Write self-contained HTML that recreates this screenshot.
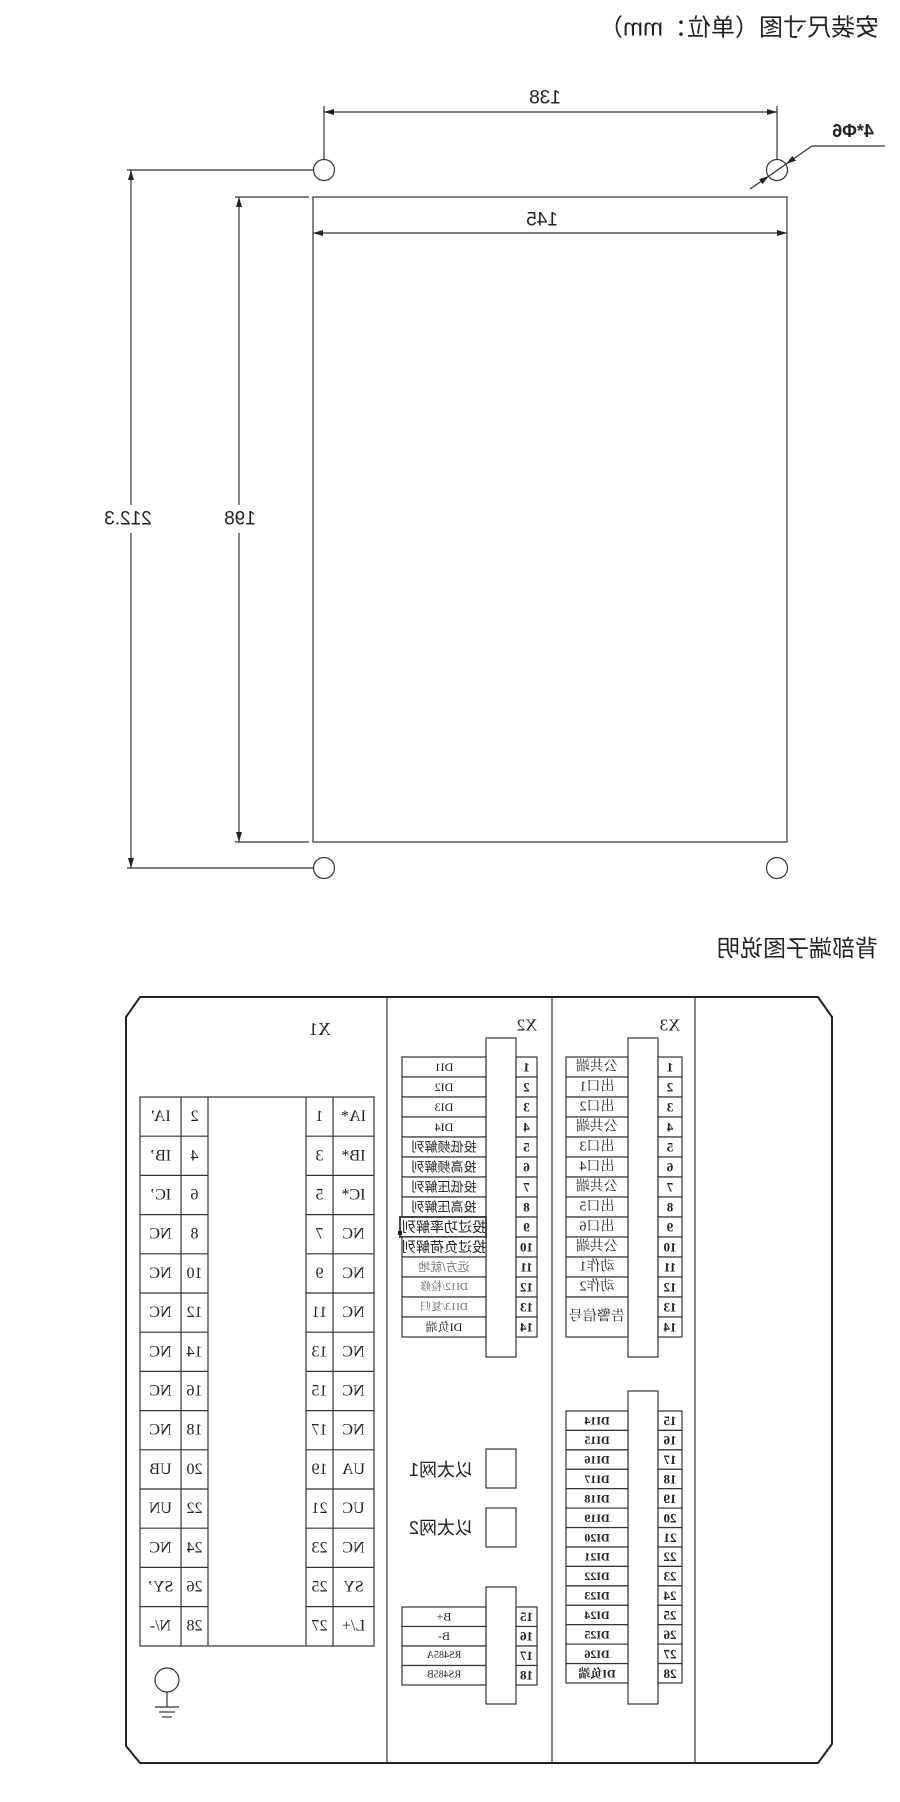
<!DOCTYPE html>
<html><head><meta charset="utf-8"><style>
html,body{margin:0;padding:0;background:#fff;}
svg{display:block;}
text{font-family:"Liberation Serif","Noto Serif CJK SC","Noto Sans CJK SC",serif;fill:#222;text-anchor:middle;dominant-baseline:central;}
.s{font-family:"Liberation Sans","Noto Sans CJK SC",sans-serif;}
.l{fill:none;stroke:#333;stroke-width:1.2;}
.t{fill:none;stroke:#222;stroke-width:2;}
.c rect{fill:#fff;stroke:#333;stroke-width:1.2;}
.n text{font-size:13px;font-weight:bold;}
</style></head><body>
<svg width="900" height="1802" viewBox="0 0 900 1802" xmlns="http://www.w3.org/2000/svg">
<defs><marker id="a" viewBox="0 0 10 6" refX="10" refY="3" markerWidth="10" markerHeight="6" orient="auto-start-reverse" markerUnits="userSpaceOnUse"><path d="M0,0 L10,3 L0,6z" fill="#222"/></marker></defs>

<!-- titles -->
<text class="s" style="text-anchor:start;font-size:24px" transform="translate(879,28) scale(-1,1)">安装尺寸图（单位：mm）</text>
<text class="s" style="text-anchor:start;font-size:23px" transform="translate(878,948) scale(-1,1)">背部端子图说明</text>

<!-- top drawing -->
<g class="l">
<rect x="313" y="197" width="474" height="645"/>
<circle cx="324" cy="170" r="10.5"/><circle cx="777" cy="170" r="10.5"/>
<circle cx="324" cy="868" r="10.5"/><circle cx="777" cy="868" r="10.5"/>
<line x1="324" y1="106" x2="324" y2="160"/><line x1="777" y1="106" x2="777" y2="160"/>
<line x1="324" y1="112" x2="777" y2="112" marker-start="url(#a)" marker-end="url(#a)"/>
<line x1="313" y1="233" x2="787" y2="233" marker-start="url(#a)" marker-end="url(#a)"/>
<line x1="127" y1="170" x2="313" y2="170"/>
<line x1="127" y1="868" x2="313" y2="868"/>
<line x1="235" y1="197" x2="309" y2="197"/>
<line x1="235" y1="842" x2="309" y2="842"/>
<line x1="131" y1="170" x2="131" y2="505" marker-start="url(#a)"/>
<line x1="131" y1="533" x2="131" y2="868" marker-end="url(#a)"/>
<line x1="239" y1="197" x2="239" y2="505" marker-start="url(#a)"/>
<line x1="239" y1="533" x2="239" y2="842" marker-end="url(#a)"/>
<line x1="750" y1="189" x2="769" y2="176" marker-end="url(#a)"/>
<line x1="812" y1="146" x2="786" y2="164" marker-end="url(#a)"/>
<line x1="769" y1="176" x2="786" y2="164"/>
<line x1="812" y1="146" x2="885" y2="146"/>
</g>
<text class="s" style="font-size:19px" transform="translate(545,98) scale(-1,1)">138</text>
<text class="s" style="font-size:19px" transform="translate(542,220) scale(-1,1)">145</text>
<text class="s" style="font-size:19px" transform="translate(128,519) scale(-1,1)">212.3</text>
<text class="s" style="font-size:19px" transform="translate(240,519) scale(-1,1)">198</text>
<text class="s" style="font-size:18px;font-weight:bold" transform="translate(853,131) scale(-1,1)">4*Φ6</text>

<!-- frame -->
<path class="t" d="M126,1017 L140,997 L818,997 L832,1017 L832,1744 L818,1763 L140,1763 L126,1746 Z"/>
<g class="l">
<line x1="387" y1="997" x2="387" y2="1763"/>
<line x1="552" y1="997" x2="552" y2="1763"/>
<line x1="695" y1="997" x2="695" y2="1763"/>
</g>

<!-- X1 -->
<text style="font-size:18px" transform="translate(320,1029) scale(-1,1)">X1</text>
<g class="l">
<rect x="140" y="1097" width="234" height="549"/>
<line x1="181" y1="1097" x2="181" y2="1646"/><line x1="208" y1="1097" x2="208" y2="1646"/>
<line x1="306" y1="1097" x2="306" y2="1646"/><line x1="333" y1="1097" x2="333" y2="1646"/>
<path d="M140,1136.2H208M140,1175.4H208M140,1214.6H208M140,1253.8H208M140,1293H208M140,1332.2H208M140,1371.4H208M140,1410.6H208M140,1449.8H208M140,1489H208M140,1528.2H208M140,1567.4H208M140,1606.6H208
M306,1136.2H374M306,1175.4H374M306,1214.6H374M306,1253.8H374M306,1293H374M306,1332.2H374M306,1371.4H374M306,1410.6H374M306,1449.8H374M306,1489H374M306,1528.2H374M306,1567.4H374M306,1606.6H374"/>
</g>
<g style="font-size:16px">
<text transform="translate(353.5,1116.6) scale(-1,1)">IA*</text><text transform="translate(319.5,1116.6) scale(-1,1)">1</text><text transform="translate(194.5,1116.6) scale(-1,1)">2</text><text transform="translate(160.5,1116.6) scale(-1,1)">IA’</text>
<text transform="translate(353.5,1155.8) scale(-1,1)">IB*</text><text transform="translate(319.5,1155.8) scale(-1,1)">3</text><text transform="translate(194.5,1155.8) scale(-1,1)">4</text><text transform="translate(160.5,1155.8) scale(-1,1)">IB’</text>
<text transform="translate(353.5,1195) scale(-1,1)">IC*</text><text transform="translate(319.5,1195) scale(-1,1)">5</text><text transform="translate(194.5,1195) scale(-1,1)">6</text><text transform="translate(160.5,1195) scale(-1,1)">IC’</text>
<text transform="translate(353.5,1234.2) scale(-1,1)">NC</text><text transform="translate(319.5,1234.2) scale(-1,1)">7</text><text transform="translate(194.5,1234.2) scale(-1,1)">8</text><text transform="translate(160.5,1234.2) scale(-1,1)">NC</text>
<text transform="translate(353.5,1273.4) scale(-1,1)">NC</text><text transform="translate(319.5,1273.4) scale(-1,1)">9</text><text transform="translate(194.5,1273.4) scale(-1,1)">10</text><text transform="translate(160.5,1273.4) scale(-1,1)">NC</text>
<text transform="translate(353.5,1312.6) scale(-1,1)">NC</text><text transform="translate(319.5,1312.6) scale(-1,1)">11</text><text transform="translate(194.5,1312.6) scale(-1,1)">12</text><text transform="translate(160.5,1312.6) scale(-1,1)">NC</text>
<text transform="translate(353.5,1351.8) scale(-1,1)">NC</text><text transform="translate(319.5,1351.8) scale(-1,1)">13</text><text transform="translate(194.5,1351.8) scale(-1,1)">14</text><text transform="translate(160.5,1351.8) scale(-1,1)">NC</text>
<text transform="translate(353.5,1391) scale(-1,1)">NC</text><text transform="translate(319.5,1391) scale(-1,1)">15</text><text transform="translate(194.5,1391) scale(-1,1)">16</text><text transform="translate(160.5,1391) scale(-1,1)">NC</text>
<text transform="translate(353.5,1430.2) scale(-1,1)">NC</text><text transform="translate(319.5,1430.2) scale(-1,1)">17</text><text transform="translate(194.5,1430.2) scale(-1,1)">18</text><text transform="translate(160.5,1430.2) scale(-1,1)">NC</text>
<text transform="translate(353.5,1469.4) scale(-1,1)">UA</text><text transform="translate(319.5,1469.4) scale(-1,1)">19</text><text transform="translate(194.5,1469.4) scale(-1,1)">20</text><text transform="translate(160.5,1469.4) scale(-1,1)">UB</text>
<text transform="translate(353.5,1508.6) scale(-1,1)">UC</text><text transform="translate(319.5,1508.6) scale(-1,1)">21</text><text transform="translate(194.5,1508.6) scale(-1,1)">22</text><text transform="translate(160.5,1508.6) scale(-1,1)">UN</text>
<text transform="translate(353.5,1547.8) scale(-1,1)">NC</text><text transform="translate(319.5,1547.8) scale(-1,1)">23</text><text transform="translate(194.5,1547.8) scale(-1,1)">24</text><text transform="translate(160.5,1547.8) scale(-1,1)">NC</text>
<text transform="translate(353.5,1587) scale(-1,1)">SY</text><text transform="translate(319.5,1587) scale(-1,1)">25</text><text transform="translate(194.5,1587) scale(-1,1)">26</text><text transform="translate(160.5,1587) scale(-1,1)">SY’</text>
<text transform="translate(353.5,1626.2) scale(-1,1)">L/+</text><text transform="translate(319.5,1626.2) scale(-1,1)">27</text><text transform="translate(194.5,1626.2) scale(-1,1)">28</text><text transform="translate(160.5,1626.2) scale(-1,1)">N/-</text>
</g>
<!-- ground -->
<g class="l">
<circle cx="167" cy="1680" r="12"/>
<line x1="167" y1="1692" x2="167" y2="1707"/>
<line x1="155" y1="1707" x2="179" y2="1707"/>
<line x1="159" y1="1712" x2="175" y2="1712"/>
<line x1="162" y1="1717" x2="172" y2="1717"/>
</g>

<!-- X2 -->
<text style="font-size:17px" transform="translate(527,1025) scale(-1,1)">X2</text>
<g class="c">
<rect x="486" y="1038" width="30" height="319"/>
<rect x="402" y="1057" width="84" height="20"/><rect x="402" y="1077" width="84" height="20"/><rect x="402" y="1097" width="84" height="20"/><rect x="402" y="1117" width="84" height="20"/><rect x="402" y="1137" width="84" height="20"/><rect x="402" y="1157" width="84" height="20"/><rect x="402" y="1177" width="84" height="20"/><rect x="402" y="1197" width="84" height="20"/><rect x="400" y="1217" width="86" height="20" style="stroke-width:1.8"/><rect x="402" y="1237" width="84" height="20"/><rect x="402" y="1257" width="84" height="20"/><rect x="402" y="1277" width="84" height="20"/><rect x="402" y="1297" width="84" height="20"/><rect x="402" y="1317" width="84" height="20"/>
<rect x="516" y="1057" width="21" height="20"/><rect x="516" y="1077" width="21" height="20"/><rect x="516" y="1097" width="21" height="20"/><rect x="516" y="1117" width="21" height="20"/><rect x="516" y="1137" width="21" height="20"/><rect x="516" y="1157" width="21" height="20"/><rect x="516" y="1177" width="21" height="20"/><rect x="516" y="1197" width="21" height="20"/><rect x="516" y="1217" width="21" height="20"/><rect x="516" y="1237" width="21" height="20"/><rect x="516" y="1257" width="21" height="20"/><rect x="516" y="1277" width="21" height="20"/><rect x="516" y="1297" width="21" height="20"/><rect x="516" y="1317" width="21" height="20"/>
</g>
<rect x="398" y="1231" width="4" height="4" fill="#222"/>
<g style="font-size:12px">
<text transform="translate(444,1067) scale(-1,1)">DI1</text><text transform="translate(444,1087) scale(-1,1)">DI2</text><text transform="translate(444,1107) scale(-1,1)">DI3</text><text transform="translate(444,1127) scale(-1,1)">DI4</text>
<text class="s" style="font-size:13px" transform="translate(444,1147) scale(-1,1)">投低频解列</text>
<text class="s" style="font-size:13px" transform="translate(444,1167) scale(-1,1)">投高频解列</text>
<text class="s" style="font-size:13px" transform="translate(444,1187) scale(-1,1)">投低压解列</text>
<text class="s" style="font-size:13px" transform="translate(444,1207) scale(-1,1)">投高压解列</text>
<text class="s" style="font-size:14px" transform="translate(444,1227) scale(-1,1)">投过功率解列</text>
<text class="s" style="font-size:14px" transform="translate(444,1247) scale(-1,1)">投过负荷解列</text>
<text class="s" style="font-size:12px;fill:#777" transform="translate(444,1267) scale(-1,1)">远方/就地</text>
<text style="font-size:11px;fill:#666" transform="translate(444,1287) scale(-1,1)">DI12/检修</text>
<text style="font-size:11px;fill:#666" transform="translate(444,1307) scale(-1,1)">DI13/复归</text>
<text style="font-size:12px" transform="translate(444,1327) scale(-1,1)">DI负端</text>
</g>
<g class="n">
<text transform="translate(526.5,1067) scale(-1,1)">1</text><text transform="translate(526.5,1087) scale(-1,1)">2</text><text transform="translate(526.5,1107) scale(-1,1)">3</text><text transform="translate(526.5,1127) scale(-1,1)">4</text><text transform="translate(526.5,1147) scale(-1,1)">5</text><text transform="translate(526.5,1167) scale(-1,1)">6</text><text transform="translate(526.5,1187) scale(-1,1)">7</text><text transform="translate(526.5,1207) scale(-1,1)">8</text><text transform="translate(526.5,1227) scale(-1,1)">9</text><text transform="translate(526.5,1247) scale(-1,1)">10</text><text transform="translate(526.5,1267) scale(-1,1)">11</text><text transform="translate(526.5,1287) scale(-1,1)">12</text><text transform="translate(526.5,1307) scale(-1,1)">13</text><text transform="translate(526.5,1327) scale(-1,1)">14</text>
</g>
<!-- ethernet -->
<g class="c">
<rect x="486" y="1449" width="30" height="39"/>
<rect x="486" y="1508" width="30" height="39"/>
</g>
<text class="s" style="font-size:18px;text-anchor:start" transform="translate(473,1470) scale(-1,1)">以太网1</text>
<text class="s" style="font-size:18px;text-anchor:start" transform="translate(473,1528) scale(-1,1)">以太网2</text>
<!-- X2 lower -->
<g class="c">
<rect x="486" y="1587" width="30" height="117"/>
<rect x="402" y="1607" width="84" height="19.5"/><rect x="402" y="1626.5" width="84" height="19.5"/><rect x="402" y="1646" width="84" height="19.5"/><rect x="402" y="1665.5" width="84" height="19.5"/>
<rect x="516" y="1607" width="21" height="19.5"/><rect x="516" y="1626.5" width="21" height="19.5"/><rect x="516" y="1646" width="21" height="19.5"/><rect x="516" y="1665.5" width="21" height="19.5"/>
</g>
<g style="font-size:12px">
<text transform="translate(444,1616.7) scale(-1,1)">B+</text><text transform="translate(444,1636.2) scale(-1,1)">B-</text><text style="font-size:10px" transform="translate(444,1655.7) scale(-1,1)">RS485A</text><text style="font-size:10px" transform="translate(444,1675.2) scale(-1,1)">RS485B</text>
</g>
<g class="n">
<text transform="translate(526.5,1616.7) scale(-1,1)">15</text><text transform="translate(526.5,1636.2) scale(-1,1)">16</text><text transform="translate(526.5,1655.7) scale(-1,1)">17</text><text transform="translate(526.5,1675.2) scale(-1,1)">18</text>
</g>

<!-- X3 -->
<text style="font-size:17px" transform="translate(670,1025) scale(-1,1)">X3</text>
<g class="c">
<rect x="628" y="1038" width="30" height="319"/>
<rect x="566" y="1057" width="62" height="20"/><rect x="566" y="1077" width="62" height="20"/><rect x="566" y="1097" width="62" height="20"/><rect x="566" y="1117" width="62" height="20"/><rect x="566" y="1137" width="62" height="20"/><rect x="566" y="1157" width="62" height="20"/><rect x="566" y="1177" width="62" height="20"/><rect x="566" y="1197" width="62" height="20"/><rect x="566" y="1217" width="62" height="20"/><rect x="566" y="1237" width="62" height="20"/><rect x="566" y="1257" width="62" height="20"/><rect x="566" y="1277" width="62" height="20"/><rect x="566" y="1297" width="62" height="40"/>
<rect x="658" y="1057" width="24" height="20"/><rect x="658" y="1077" width="24" height="20"/><rect x="658" y="1097" width="24" height="20"/><rect x="658" y="1117" width="24" height="20"/><rect x="658" y="1137" width="24" height="20"/><rect x="658" y="1157" width="24" height="20"/><rect x="658" y="1177" width="24" height="20"/><rect x="658" y="1197" width="24" height="20"/><rect x="658" y="1217" width="24" height="20"/><rect x="658" y="1237" width="24" height="20"/><rect x="658" y="1257" width="24" height="20"/><rect x="658" y="1277" width="24" height="20"/><rect x="658" y="1297" width="24" height="20"/><rect x="658" y="1317" width="24" height="20"/>
</g>
<g class="s" style="font-size:14px">
<text transform="translate(597,1067) scale(-1,1)">公共端</text><text transform="translate(597,1087) scale(-1,1)">出口1</text><text transform="translate(597,1107) scale(-1,1)">出口2</text><text transform="translate(597,1127) scale(-1,1)">公共端</text><text transform="translate(597,1147) scale(-1,1)">出口3</text><text transform="translate(597,1167) scale(-1,1)">出口4</text><text transform="translate(597,1187) scale(-1,1)">公共端</text><text transform="translate(597,1207) scale(-1,1)">出口5</text><text transform="translate(597,1227) scale(-1,1)">出口6</text><text transform="translate(597,1247) scale(-1,1)">公共端</text><text transform="translate(597,1267) scale(-1,1)">动作1</text><text transform="translate(597,1287) scale(-1,1)">动作2</text><text transform="translate(597,1317) scale(-1,1)">告警信号</text>
</g>
<g class="n">
<text transform="translate(670,1067) scale(-1,1)">1</text><text transform="translate(670,1087) scale(-1,1)">2</text><text transform="translate(670,1107) scale(-1,1)">3</text><text transform="translate(670,1127) scale(-1,1)">4</text><text transform="translate(670,1147) scale(-1,1)">5</text><text transform="translate(670,1167) scale(-1,1)">6</text><text transform="translate(670,1187) scale(-1,1)">7</text><text transform="translate(670,1207) scale(-1,1)">8</text><text transform="translate(670,1227) scale(-1,1)">9</text><text transform="translate(670,1247) scale(-1,1)">10</text><text transform="translate(670,1267) scale(-1,1)">11</text><text transform="translate(670,1287) scale(-1,1)">12</text><text transform="translate(670,1307) scale(-1,1)">13</text><text transform="translate(670,1327) scale(-1,1)">14</text>
</g>
<!-- X3 lower -->
<g class="c">
<rect x="628" y="1391" width="30" height="313"/>
<rect x="566" y="1411" width="62" height="19.4"/><rect x="566" y="1430.4" width="62" height="19.4"/><rect x="566" y="1449.9" width="62" height="19.4"/><rect x="566" y="1469.3" width="62" height="19.4"/><rect x="566" y="1488.7" width="62" height="19.4"/><rect x="566" y="1508.1" width="62" height="19.4"/><rect x="566" y="1527.6" width="62" height="19.4"/><rect x="566" y="1547" width="62" height="19.4"/><rect x="566" y="1566.4" width="62" height="19.4"/><rect x="566" y="1585.9" width="62" height="19.4"/><rect x="566" y="1605.3" width="62" height="19.4"/><rect x="566" y="1624.7" width="62" height="19.4"/><rect x="566" y="1644.1" width="62" height="19.4"/><rect x="566" y="1663.6" width="62" height="19.4"/>
<rect x="658" y="1411" width="24" height="19.4"/><rect x="658" y="1430.4" width="24" height="19.4"/><rect x="658" y="1449.9" width="24" height="19.4"/><rect x="658" y="1469.3" width="24" height="19.4"/><rect x="658" y="1488.7" width="24" height="19.4"/><rect x="658" y="1508.1" width="24" height="19.4"/><rect x="658" y="1527.6" width="24" height="19.4"/><rect x="658" y="1547" width="24" height="19.4"/><rect x="658" y="1566.4" width="24" height="19.4"/><rect x="658" y="1585.9" width="24" height="19.4"/><rect x="658" y="1605.3" width="24" height="19.4"/><rect x="658" y="1624.7" width="24" height="19.4"/><rect x="658" y="1644.1" width="24" height="19.4"/><rect x="658" y="1663.6" width="24" height="19.4"/>
</g>
<g style="font-size:12px;font-weight:bold">
<text transform="translate(597,1420.7) scale(-1,1)">DI14</text><text transform="translate(597,1440.1) scale(-1,1)">DI15</text><text transform="translate(597,1459.6) scale(-1,1)">DI16</text><text transform="translate(597,1479) scale(-1,1)">DI17</text><text transform="translate(597,1498.4) scale(-1,1)">DI18</text><text transform="translate(597,1517.8) scale(-1,1)">DI19</text><text transform="translate(597,1537.3) scale(-1,1)">DI20</text><text transform="translate(597,1556.7) scale(-1,1)">DI21</text><text transform="translate(597,1576.1) scale(-1,1)">DI22</text><text transform="translate(597,1595.6) scale(-1,1)">DI23</text><text transform="translate(597,1615) scale(-1,1)">DI24</text><text transform="translate(597,1634.4) scale(-1,1)">DI25</text><text transform="translate(597,1653.8) scale(-1,1)">DI26</text><text transform="translate(597,1673.3) scale(-1,1)">DI负端</text>
</g>
<g class="n">
<text transform="translate(670,1420.7) scale(-1,1)">15</text><text transform="translate(670,1440.1) scale(-1,1)">16</text><text transform="translate(670,1459.6) scale(-1,1)">17</text><text transform="translate(670,1479) scale(-1,1)">18</text><text transform="translate(670,1498.4) scale(-1,1)">19</text><text transform="translate(670,1517.8) scale(-1,1)">20</text><text transform="translate(670,1537.3) scale(-1,1)">21</text><text transform="translate(670,1556.7) scale(-1,1)">22</text><text transform="translate(670,1576.1) scale(-1,1)">23</text><text transform="translate(670,1595.6) scale(-1,1)">24</text><text transform="translate(670,1615) scale(-1,1)">25</text><text transform="translate(670,1634.4) scale(-1,1)">26</text><text transform="translate(670,1653.8) scale(-1,1)">27</text><text transform="translate(670,1673.3) scale(-1,1)">28</text>
</g>
</svg>
</body></html>
